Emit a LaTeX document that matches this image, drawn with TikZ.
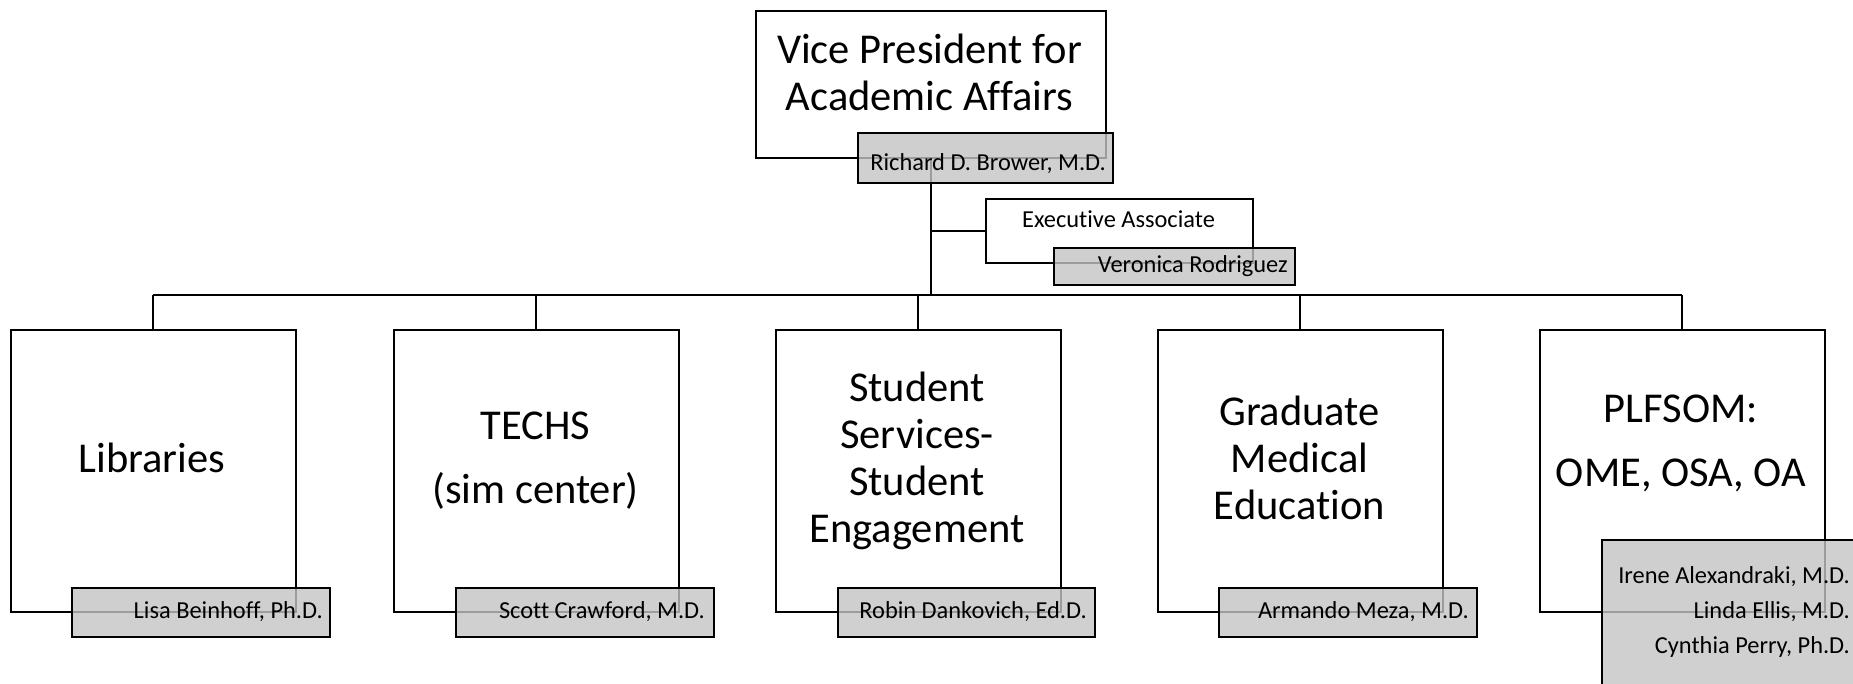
\documentclass[tikz,border=0pt]{standalone}
\usepackage{fontspec}
\setmainfont{Carlito}[Ligatures=NoCommon]
\usetikzlibrary{positioning}
\definecolor{namegray}{RGB}{196,196,196}
\tikzset{
  orgbox/.style={draw=black, line width=2pt, fill=white, rectangle, inner sep=0pt, anchor=north west},
  namebox/.style={draw=black, line width=2pt, fill=namegray, fill opacity=0.8, rectangle, inner sep=0pt, anchor=north west},
  bigtext/.style={inner sep=0pt, anchor=base, align=center, font=\fontsize{42.5}{47}\selectfont},
  wide/.style={font=\fontsize{42.5}{63.5}\selectfont},
  smalltext/.style={inner sep=0pt, font=\fontsize{24.4}{35}\selectfont},
  conn/.style={draw=black, line width=2pt},
}
\begin{document}
\begin{tikzpicture}[x=1pt,y=-1pt]
\useasboundingbox (0,0) rectangle (1853,683);
\clip (0,0) rectangle (1853,683);

% white boxes
\node[orgbox, minimum width=350pt, minimum height=147pt] (vp) at (755,10) {};
\node[orgbox, minimum width=267pt, minimum height=64pt] (ea) at (985,198) {};
\node[orgbox, minimum width=284.5pt, minimum height=282pt] (lib) at (10,329) {};
\node[orgbox, minimum width=284.5pt, minimum height=282pt] (techs) at (393,329) {};
\node[orgbox, minimum width=284.5pt, minimum height=282pt] (ss) at (775,329) {};
\node[orgbox, minimum width=284.5pt, minimum height=282pt] (gme) at (1157,329) {};
\node[orgbox, minimum width=284.5pt, minimum height=282pt] (plf) at (1539,329) {};

% connectors
\coordinate (busM) at (930,295);
\draw[conn, line width=2.7pt] (vp.south) -- (vp.south |- busM);
\draw[conn] (ea.west) -- (ea.west -| vp.south);
\draw[conn, line width=2.2pt] (lib.north |- busM) -- (plf.north |- busM);
\draw[conn] (lib.north) -- (lib.north |- busM);
\draw[conn] (techs.north) -- (techs.north |- busM);
\draw[conn] (ss.north) -- (ss.north |- busM);
\draw[conn] (gme.north) -- (gme.north |- busM);
\draw[conn] (plf.north) -- (plf.north |- busM);

% name boxes (semi-transparent)
\node[namebox, minimum width=255pt, minimum height=50pt] (vpn) at (857,132) {};
\node[namebox, minimum width=241pt, minimum height=37pt] (ean) at (1053,247) {};
\node[namebox, minimum width=258pt, minimum height=49pt] (libn) at (71,587) {};
\node[namebox, minimum width=258pt, minimum height=49pt] (techsn) at (455,587) {};
\node[namebox, minimum width=257pt, minimum height=49pt] (ssn) at (837,587) {};
\node[namebox, minimum width=258pt, minimum height=49pt] (gmen) at (1218,587) {};
\node[namebox, minimum width=256pt, minimum height=160pt] (plfn) at (1601,539) {};

% titles (anchor base = baseline of the last line)
\node[bigtext] (vpt) at (929.5,110) {Vice President for\\Academic Affairs};
\node[smalltext, anchor=base] (eat) at (1118.5,227) {Executive Associate};
\node[bigtext] (libt) at (152,472) {Libraries};
\node[bigtext, wide] (techst) at (535.5,503) {TECHS\\(sim center)};
\node[bigtext] (sst) at (917,542) {Student\\Services-\\Student\\Engagement};
\node[bigtext] (gmet) at (1299.5,519) {Graduate\\Medical\\Education};
\node[bigtext, wide] (plft) at (1681,486) {PLFSOM:\\OME, OSA, OA};

% names
\node[smalltext, anchor=base east] (vpnt) at (1106,170) {Richard D. Brower, M.D.};
\node[smalltext, anchor=base east] (eant) at (1288,272) {Veronica Rodriguez};
\node[smalltext, anchor=base east] (libnt) at (323,618) {Lisa Beinhoff, Ph.D.};
\node[smalltext, anchor=base east] (techsnt) at (705,618) {Scott Crawford, M.D.};
\node[smalltext, anchor=base east] (ssnt) at (1087,618) {Robin Dankovich, Ed.D.};
\node[smalltext, anchor=base east] (gment) at (1469,618) {Armando Meza, M.D.};
\node[smalltext, anchor=base east, align=right] (plfnt) at (1850,653) {Irene Alexandraki, M.D.\\Linda Ellis, M.D.\\Cynthia Perry, Ph.D.};
\end{tikzpicture}
\end{document}
